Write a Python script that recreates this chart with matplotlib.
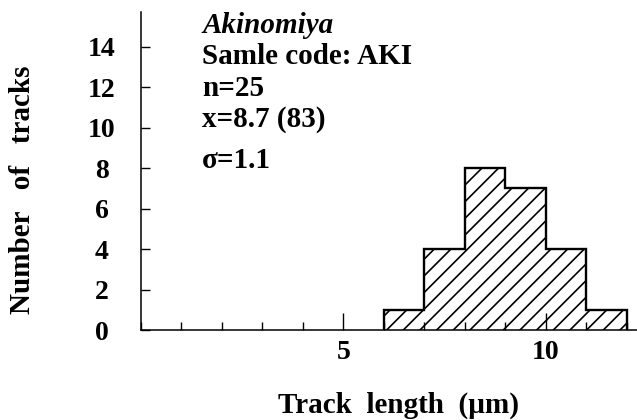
import numpy as np
import matplotlib
matplotlib.use("Agg")
import matplotlib.pyplot as plt
from matplotlib.ticker import MultipleLocator

# track length histogram, 1 um bins
bin_edges = [6, 7, 8, 9, 10, 11, 12]
counts = [1, 4, 8, 7, 4, 1]

y_ticks = [0, 2, 4, 6, 8, 10, 12, 14]
x_ticks = [5, 10]

info_lines = ["Samle code: AKI", "n=25", "x=8.7 (83)", "\u03c3=1.1"]
site = "Akinomiya"

plt.rcParams["font.family"] = ["Liberation Serif", "DejaVu Serif"]
plt.rcParams["font.weight"] = "bold"
plt.rcParams["hatch.linewidth"] = 1.2

fig = plt.figure(figsize=(6.37, 4.2), dpi=100)
ax = fig.add_axes([0.221, 0.214, 0.779, 0.757])

ax.stairs(counts, bin_edges, fill=True, facecolor="white", edgecolor="black",
          hatch="//", linewidth=1.7, baseline=0)

ax.set_xlim(0, 12.25)
ax.set_ylim(0, 15.7)

for s in ["top", "right"]:
    ax.spines[s].set_visible(False)
for s in ["left", "bottom"]:
    ax.spines[s].set_linewidth(1.1)

ax.set_xticks(x_ticks)
ax.xaxis.set_minor_locator(MultipleLocator(1))
ax.tick_params(axis="x", which="major", direction="in", length=12, width=1.0,
               pad=7, labelsize=20)
ax.tick_params(axis="x", which="minor", direction="in", length=6, width=1.0)

ax.set_yticks(y_ticks)
ax.tick_params(axis="y", which="major", direction="in", length=6.5, width=1.0,
               pad=28, labelsize=20)
for lbl in ax.get_yticklabels():
    lbl.set_horizontalalignment("center")

# annotation block (positions in pixels of the reference, converted to axes coords)
x0 = (202 - 140.7) / 496.0
baselines = [64, 96, 127, 168]
def px_to_axes(y):
    return (330 - y) / 318.0

ax.text(x0, px_to_axes(33), site, transform=ax.transAxes, fontsize=21,
        style="italic", fontweight="bold", va="baseline", ha="left")
for txt, yb in zip(info_lines, baselines):
    ax.text(x0, px_to_axes(yb), txt, transform=ax.transAxes, fontsize=21,
            fontweight="bold", va="baseline", ha="left")

fig.text(23 / 637, 1 - 190 / 420, "Number   of   tracks", rotation=90,
         fontsize=21, fontweight="bold", ha="center", va="center")
fig.text(398 / 637, 1 - 405 / 420, "Track  length  (\u00b5m)",
         fontsize=21, fontweight="bold", ha="center", va="center")

fig.savefig("out.png", dpi=100)
